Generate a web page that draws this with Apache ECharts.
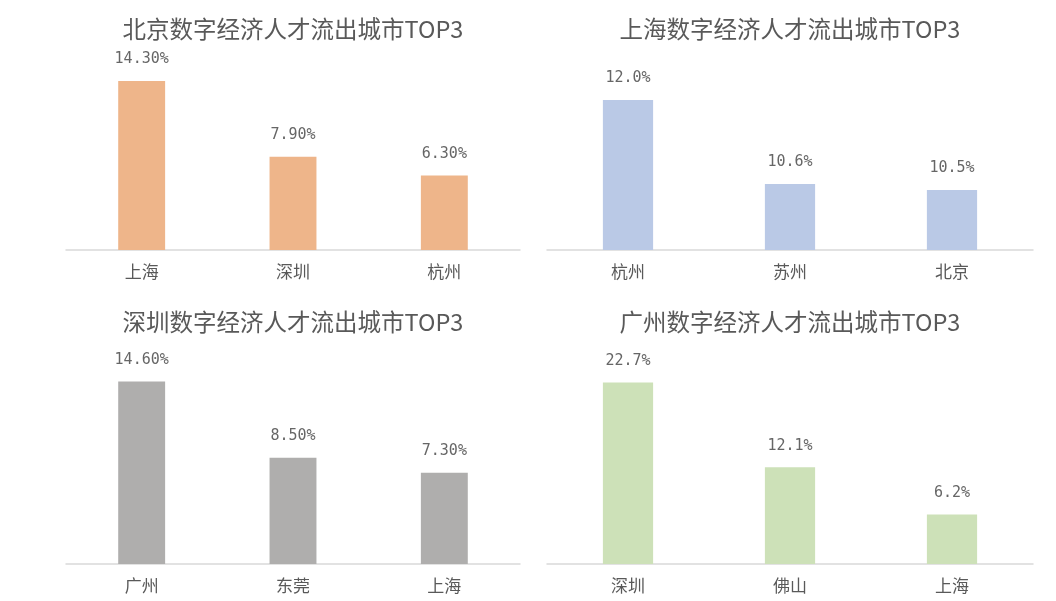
<!DOCTYPE html>
<html>
<head>
<meta charset="utf-8">
<script src="https://cdn.jsdelivr.net/npm/echarts@6/dist/echarts.min.js"></script>
<style>
html,body{margin:0;padding:0;background:#fff;}
#main{width:1056px;height:601px;}
</style>
</head>
<body>
<div id="main"></div>
<script>
const titles = ['北京数字经济人才流出城市TOP3','上海数字经济人才流出城市TOP3','深圳数字经济人才流出城市TOP3','广州数字经济人才流出城市TOP3'];
const bjCities = ['上海','深圳','杭州'];
const bjValues = [14.3, 7.9, 6.3];
const shCities = ['杭州','苏州','北京'];
const shValues = [12.0, 10.6, 10.5];
const szCities = ['广州','东莞','上海'];
const szValues = [14.6, 8.5, 7.3];
const gzCities = ['深圳','佛山','上海'];
const gzValues = [22.7, 12.1, 6.2];
const decimals = [2, 1, 2, 1];
const colors = ['#EEB58A','#BAC9E6','#AFAEAD','#CDE1B8'];

const cats = [bjCities, shCities, szCities, gzCities];
const vals = [bjValues, shValues, szValues, gzValues];

const grids = [
  {left:66, right:536, top:61, bottom:351},
  {left:547, right:23, top:61, bottom:351},
  {left:66, right:536, top:364, bottom:37},
  {left:547, right:23, top:364, bottom:37}
];
const yRange = [[0,16],[9.5,12.65],[0,16],[0,25]];
const titlePos = [{x:288,y:12},{x:785,y:12},{x:288,y:305},{x:785,y:305}];

const font = '"Noto Sans CJK SC","Microsoft YaHei",sans-serif';
const option = {
  backgroundColor:'#fff',
  animation:false,
  title: titles.map((t,i)=>({
    text:t, left:titlePos[i].x, top:titlePos[i].y, textAlign:'center',
    textStyle:{fontFamily:font, fontSize:23.5, fontWeight:'normal', color:'#595959'}
  })),
  grid: grids.map(g=>Object.assign({containLabel:false}, g)),
  xAxis: cats.map((c,i)=>({
    type:'category', gridIndex:i, data:c,
    axisLine:{show:true, lineStyle:{color:'#D9D9D9', width:1.5}},
    axisTick:{show:false},
    axisLabel:{fontFamily:font, fontSize:17, color:'#595959', margin:13}
  })),
  yAxis: yRange.map((r,i)=>({
    type:'value', gridIndex:i, min:r[0], max:r[1], show:false,
    splitLine:{show:false}
  })),
  series: vals.map((v,i)=>({
    type:'bar', xAxisIndex:i, yAxisIndex:i, data:v, barWidth:'31%',
    itemStyle:{color:colors[i]},
    label:{show:true, position:'top', distance:14,
      fontFamily:'"DejaVu Sans Mono",monospace', fontSize:15, color:'#666666',
      formatter:p=>p.value.toFixed(decimals[i])+'%'}
  }))
};
const chart = echarts.init(document.getElementById('main'));
chart.setOption(option);
</script>
</body>
</html>
